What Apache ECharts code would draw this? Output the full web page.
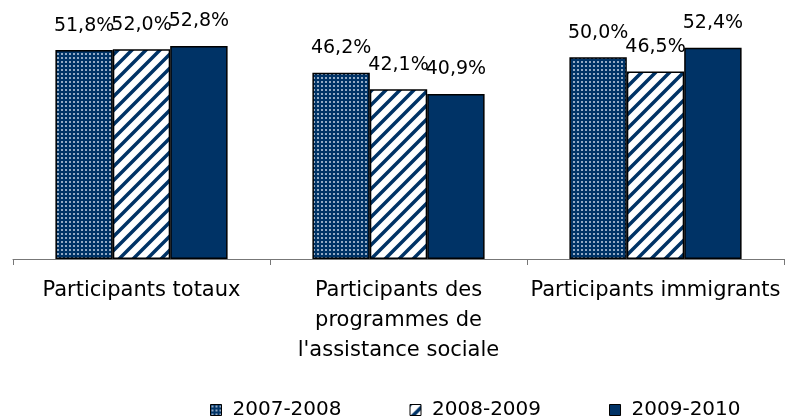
<!DOCTYPE html>
<html>
<head>
<meta charset="utf-8">
<script src="https://cdn.jsdelivr.net/npm/echarts@6/dist/echarts.min.js"></script>
<style>
  html, body { margin: 0; padding: 0; background: #fff; }
  #chart { width: 799px; height: 419px; }
</style>
</head>
<body>
<div id="chart"></div>
<script>
  // data
  var categories = ['Participants totaux', 'Participants des\nprogrammes de\nl\'assistance sociale', 'Participants immigrants'];
  var seriesNames = ['2007-2008', '2008-2009', '2009-2010'];
  var values0708 = [51.8, 46.2, 50.0];
  var values0809 = [52.0, 42.1, 46.5];
  var values0910 = [52.8, 40.9, 52.4];

  var navy = '#003366';

  // dotted fill
  function dotPattern() {
    var c = document.createElement('canvas');
    c.width = 4; c.height = 4;
    var ctx = c.getContext('2d');
    ctx.fillStyle = navy;
    ctx.fillRect(0, 0, 4, 4);
    ctx.fillStyle = '#94aac4';
    ctx.fillRect(1, 1, 2, 2);
    return c;
  }
  // diagonal stripes "/"
  function stripePattern() {
    var s = 14;
    var c = document.createElement('canvas');
    c.width = s; c.height = s;
    var ctx = c.getContext('2d');
    ctx.fillStyle = '#fff';
    ctx.fillRect(0, 0, s, s);
    ctx.strokeStyle = navy;
    ctx.lineWidth = 3.5;
    ctx.beginPath();
    ctx.moveTo(-s, s); ctx.lineTo(s, -s);
    ctx.moveTo(0, 2 * s); ctx.lineTo(2 * s, 0);
    ctx.moveTo(0, s); ctx.lineTo(s, 0);
    ctx.stroke();
    return c;
  }

  var fills = [
    { image: dotPattern(), repeat: 'repeat' },
    { image: stripePattern(), repeat: 'repeat' },
    navy
  ];
  var allValues = [values0708, values0809, values0910];

  var chart = echarts.init(document.getElementById('chart'));
  var series = seriesNames.map(function (name, i) {
    return {
      name: name,
      type: 'bar',
      barGap: '0%',
      barCategoryGap: '33%',
      data: allValues[i],
      itemStyle: { color: fills[i], borderColor: '#000', borderWidth: 1.5 },
      label: {
        show: true,
        position: 'top',
        distance: 15,
        color: '#000',
        fontFamily: 'DejaVu Sans',
        fontSize: 19,
        formatter: function (p) { return p.value.toFixed(1).replace('.', ',') + '%'; }
      }
    };
  });

  chart.setOption({
    animation: false,
    grid: { left: 13, right: 15, top: 17, bottom: 160 },
    legend: {
      top: 395,
      left: 205,
      icon: 'rect',
      itemWidth: 11,
      itemHeight: 11,
      itemGap: 68,
      itemStyle: { borderColor: '#000', borderWidth: 1 },
      textStyle: { color: '#000', fontFamily: 'DejaVu Sans', fontSize: 20, padding: [0, 0, 0, 6] },
      data: seriesNames
    },
    xAxis: {
      type: 'category',
      data: categories,
      axisLine: { lineStyle: { color: '#777', width: 1 } },
      axisTick: { show: true, length: 6, lineStyle: { color: '#777' } },
      axisLabel: {
        color: '#000',
        fontFamily: 'DejaVu Sans',
        fontSize: 21,
        lineHeight: 30,
        margin: 17,
        interval: 0
      }
    },
    yAxis: {
      type: 'value',
      min: 0,
      max: 60,
      show: false
    },
    series: series
  });
</script>
</body>
</html>
